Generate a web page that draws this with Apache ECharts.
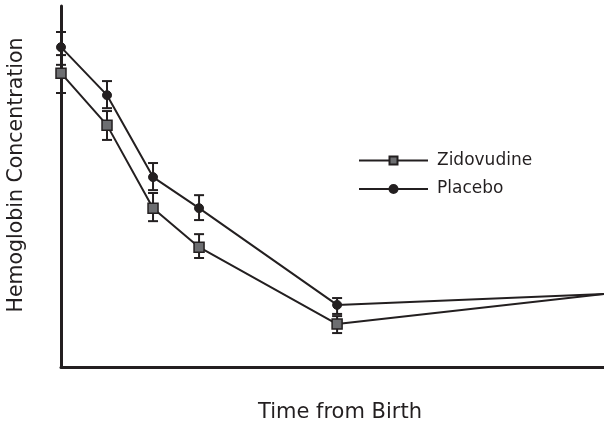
<!DOCTYPE html>
<html>
<head>
<meta charset="utf-8">
<script src="https://cdn.jsdelivr.net/npm/echarts@6/dist/echarts.min.js"></script>
<style>
  html, body { margin: 0; padding: 0; background: #fff; }
  #chart { width: 604px; height: 423px; }
</style>
</head>
<body>
<div id="chart"></div>
<script>
// Time points (months from birth) and relative hemoglobin level
const timePoints = [0, 1, 2, 3, 6, 11.8];
const zidovudine = [81.4, 67.0, 44.0, 33.2, 11.9, 20.2];
const placebo = [88.6, 75.3, 52.6, 44.0, 17.2, 20.2];
// Error bar ranges [low, high] for the first five time points
const zidovudineLow = [75.9, 62.9, 40.4, 30.2, 9.4];
const zidovudineHigh = [86.4, 70.9, 48.2, 36.8, 14.1];
const placeboLow = [83.7, 71.7, 49.0, 40.7, 14.7];
const placeboHigh = [92.8, 79.2, 56.5, 47.6, 19.1];

const ink = '#231f20';
const font = '"DejaVu Sans", Verdana, sans-serif';

function errData(low, high) {
  return low.map((l, i) => [timePoints[i], l, high[i]]);
}
function lineData(vals) {
  return vals.map((v, i) => {
    const d = { value: [timePoints[i], v] };
    if (i === vals.length - 1) d.symbolSize = 0;
    return d;
  });
}
function errorBars(api) {
  const x = api.value(0);
  const lo = api.coord([x, api.value(1)]);
  const hi = api.coord([x, api.value(2)]);
  const w = 5;
  const style = { stroke: ink, lineWidth: 2 };
  return {
    type: 'group',
    children: [
      { type: 'line', shape: { x1: lo[0], y1: lo[1], x2: hi[0], y2: hi[1] }, style },
      { type: 'line', shape: { x1: lo[0] - w, y1: lo[1], x2: lo[0] + w, y2: lo[1] }, style },
      { type: 'line', shape: { x1: hi[0] - w, y1: hi[1], x2: hi[0] + w, y2: hi[1] }, style }
    ]
  };
}

const chart = echarts.init(document.getElementById('chart'));
chart.setOption({
  animation: false,
  grid: { left: 61, right: 0, top: 6, bottom: 56, outerBoundsMode: 'none', containLabel: false },
  xAxis: {
    type: 'value', min: 0, max: 11.8,
    axisLine: { lineStyle: { color: ink, width: 3 } },
    axisTick: { show: false }, axisLabel: { show: false }, splitLine: { show: false },
    name: 'Time from Birth', nameLocation: 'middle', nameGap: 35,
    nameTextStyle: { fontFamily: font, fontSize: 21, color: ink, padding: [0, 0, 0, 15] }
  },
  yAxis: {
    type: 'value', min: 0, max: 100,
    axisLine: { show: true, lineStyle: { color: ink, width: 3 } },
    axisTick: { show: false }, axisLabel: { show: false }, splitLine: { show: false },
    name: 'Hemoglobin Concentration', nameLocation: 'middle', nameGap: 34,
    nameTextStyle: { fontFamily: font, fontSize: 20.5, color: ink, padding: [0, 0, 0, 23] }
  },
  legend: {
    orient: 'vertical', left: 358, top: 152, itemGap: 11.5, padding: 0,
    itemWidth: 69, itemHeight: 10,
    textStyle: { fontFamily: font, fontSize: 17, color: ink, padding: [0, 0, 0, 4] },
    data: ['Zidovudine', 'Placebo']
  },
  series: [
    {
      type: 'custom', name: 'zErr', renderItem: (p, api) => errorBars(api),
      data: errData(zidovudineLow, zidovudineHigh), z: 3
    },
    {
      type: 'custom', name: 'pErr', renderItem: (p, api) => errorBars(api),
      data: errData(placeboLow, placeboHigh), z: 3
    },
    {
      type: 'line', name: 'Zidovudine', data: lineData(zidovudine),
      symbol: 'rect', symbolSize: 10, z: 4,
      lineStyle: { color: ink, width: 2 },
      itemStyle: { color: '#6d6e71', borderColor: ink, borderWidth: 1.5 }
    },
    {
      type: 'line', name: 'Placebo', data: lineData(placebo),
      symbol: 'circle', symbolSize: 9, z: 4,
      lineStyle: { color: ink, width: 2 },
      itemStyle: { color: ink, borderColor: ink, borderWidth: 1 }
    }
  ]
});
</script>
</body>
</html>
